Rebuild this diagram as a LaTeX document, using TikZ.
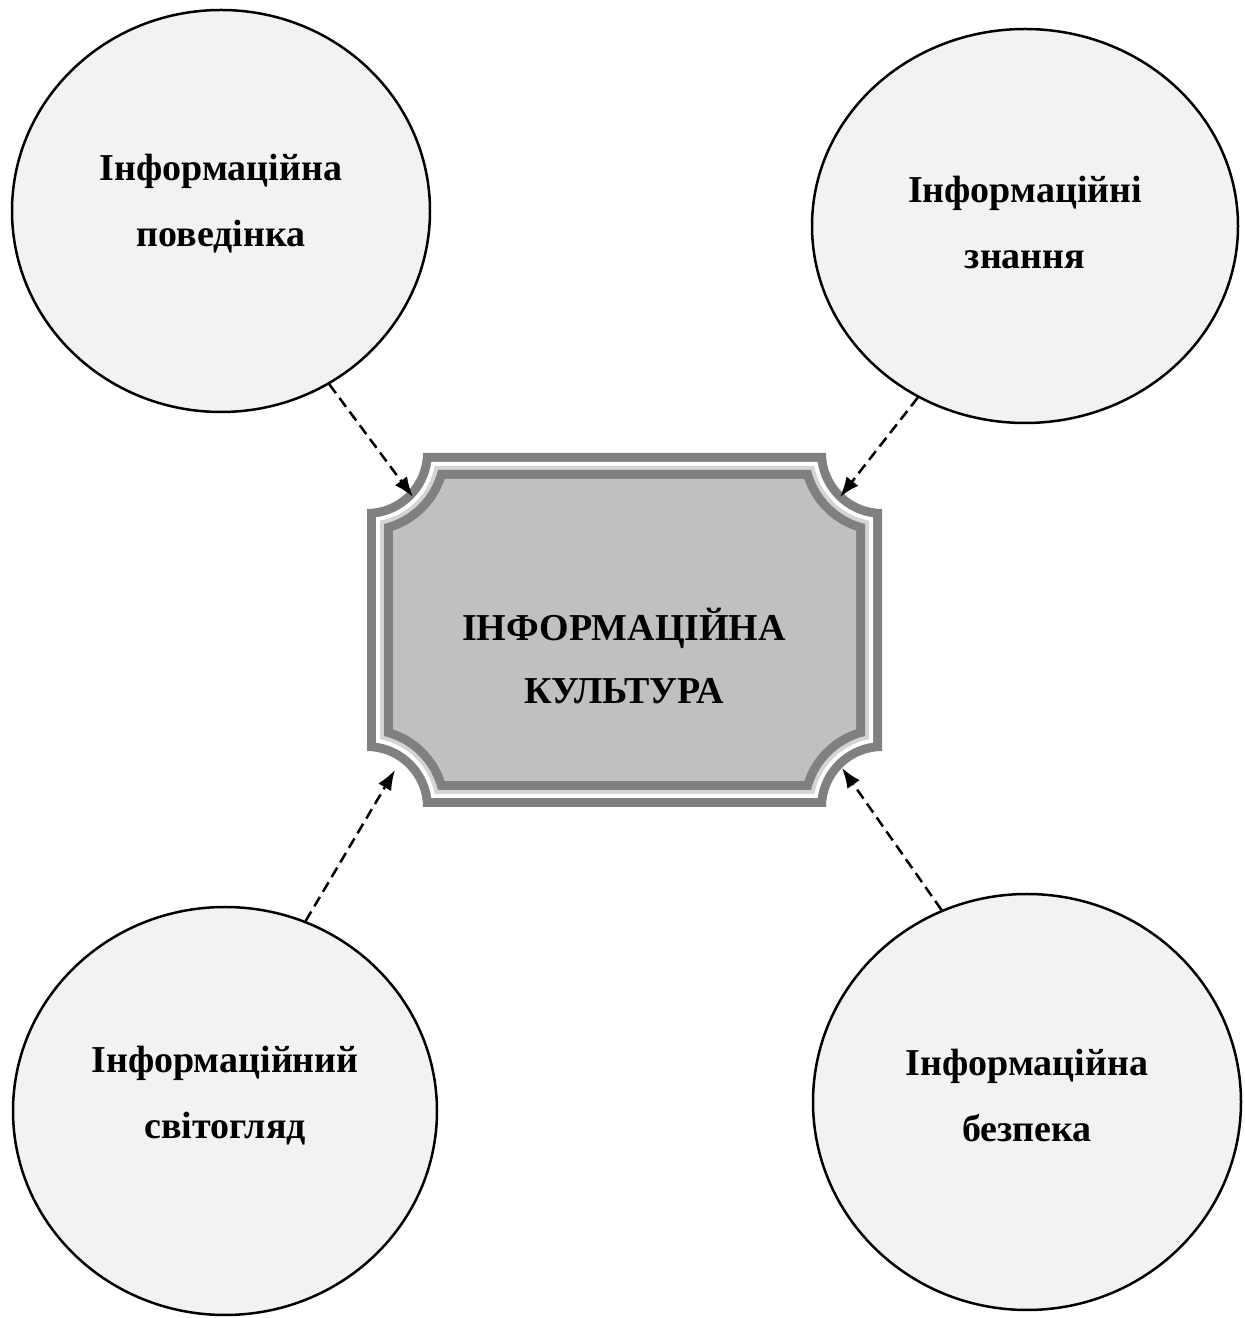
\documentclass[tikz,border=0pt]{standalone}
\usepackage{fontspec}
\setmainfont{Liberation Serif}
\usepackage{tikz}
\usetikzlibrary{shapes.geometric,arrows.meta}

\definecolor{framedark}{HTML}{808080}
\definecolor{framelight}{HTML}{D4D4D4}
\definecolor{platefill}{HTML}{C0C0C0}
\definecolor{bubblefill}{HTML}{F2F2F2}

% one layer of the plaque, inset by #1
\newcommand{\platelayer}[2]{%
  \pgfmathsetmacro\ra{56+#1}%
  \pgfmathsetmacro\al{asin(#1/\ra)}%
  \pgfmathsetmacro\sa{sqrt(\ra*\ra-#1*#1)}%
  \fill[#2] (367+\sa,865-#1) -- (882-\sa,865-#1)
    arc[start angle=180+\al,end angle=270-\al,radius=\ra] -- (882-#1,511+\sa)
    arc[start angle=90+\al,end angle=180-\al,radius=\ra] -- (367+\sa,511+#1)
    arc[start angle=\al,end angle=90-\al,radius=\ra] -- (367+#1,865-\sa)
    arc[start angle=-90+\al,end angle=-\al,radius=\ra] -- cycle;}

\begin{document}
\begin{tikzpicture}[x=1pt,y=1pt,
  bubble/.style={ellipse,draw=black,line width=2.5pt,fill=bubblefill,inner sep=0pt},
  caption/.style={align=center,font=\bfseries\fontsize{38}{66}\selectfont},
  link/.style={dashed,dash pattern=on 11pt off 6pt,line width=2.5pt,-{Latex[length=20pt,width=15pt]}}]
\useasboundingbox (0,0) rectangle (1245,1318);

\platelayer{0}{framedark}
\platelayer{9}{white}
\platelayer{13}{framelight}
\platelayer{17}{framedark}
\platelayer{26}{platefill}
\node[caption,font=\bfseries\fontsize{38}{63}\selectfont] (title) at (624,662)
  {ІНФОРМАЦІЙНА\\КУЛЬТУРА};

\node[bubble,minimum width=418pt,minimum height=402pt] (behav) at (221,1107) {};
\node[bubble,minimum width=426pt,minimum height=394pt] (know) at (1025,1092) {};
\node[bubble,minimum width=424pt,minimum height=408pt] (view) at (225,207) {};
\node[bubble,minimum width=428pt,minimum height=416pt] (safe) at (1027,216) {};

\node[caption] (behavtxt) at ([yshift=7pt]behav.center) {Інформаційна\\поведінка};
\node[caption] (knowtxt) at ([yshift=3pt]know.center) {Інформаційні\\знання};
\node[caption] (viewtxt) at ([yshift=15pt]view.center) {Інформаційний\\світогляд};
\node[caption] (safetxt) at ([yshift=6pt]safe.center) {Інформаційна\\безпека};

\coordinate (tl) at (413,821);
\coordinate (tr) at (840,821);
\coordinate (bl) at (395,548);
\coordinate (br) at (842,550);

\draw[link] (behav.-58) to (tl);
\draw[link] (know.238) to (tr);
\draw[link] (view.67) to (bl);
\draw[link] (safe.114) to (br);

\end{tikzpicture}
\end{document}
